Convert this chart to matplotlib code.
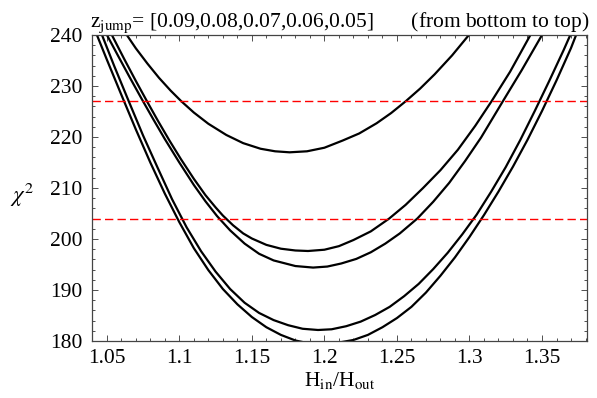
import matplotlib
matplotlib.use("Agg")
import matplotlib.pyplot as plt
from matplotlib.ticker import MultipleLocator, FormatStrFormatter, FuncFormatter

plt.rcParams['font.family'] = ['Liberation Serif', 'DejaVu Serif']
plt.rcParams['mathtext.fontset'] = 'stix'

# values: (H_in/H_out, chi^2) along each curve
z_jump = [0.09, 0.08, 0.07, 0.06, 0.05]

x_009 = [1.0432, 1.050, 1.060, 1.070, 1.080, 1.090, 1.100, 1.110, 1.120, 1.130, 1.140, 1.150, 1.160, 1.170, 1.180, 1.190, 1.198,
         1.210, 1.220, 1.230, 1.240, 1.250, 1.260, 1.270, 1.280, 1.290, 1.300, 1.310, 1.320, 1.330, 1.340, 1.350, 1.360, 1.370, 1.3735]
y_009 = [240.0, 235.2, 228.3, 221.5, 215.0, 208.9, 203.3, 198.2, 193.9, 190.2, 187.2, 184.7, 182.7, 181.2, 180.1, 179.5, 179.4,
         179.7, 180.2, 181.2, 182.7, 184.5, 186.7, 189.5, 192.8, 196.4, 200.4, 204.7, 209.3, 214.2, 219.45, 225.1, 231.1, 237.45, 240.0]

x_008 = [1.0467, 1.055, 1.065, 1.075, 1.085, 1.095, 1.105, 1.115, 1.125, 1.135, 1.145, 1.155, 1.165, 1.175, 1.185, 1.1956,
         1.205, 1.215, 1.225, 1.235, 1.245, 1.255, 1.265, 1.275, 1.285, 1.295, 1.305, 1.315, 1.325, 1.335, 1.345, 1.355, 1.365, 1.3695]
y_008 = [240.0, 234.0, 227.1, 220.3, 214.0, 207.8, 202.3, 197.6, 193.6, 190.2, 187.5, 185.5, 184.1, 183.1, 182.4, 182.16,
         182.3, 182.9, 183.8, 185.1, 186.7, 188.8, 191.2, 194.1, 197.3, 200.9, 204.8, 209.3, 214.1, 219.4, 225.1, 231.0, 237.1, 240.0]

x_007 = [1.0501, 1.058, 1.066, 1.074, 1.082, 1.090, 1.100, 1.110, 1.118, 1.126, 1.135, 1.145, 1.155, 1.165, 1.180, 1.1922,
         1.202, 1.2116, 1.222, 1.232, 1.242, 1.252, 1.264, 1.275, 1.286, 1.297, 1.308, 1.323, 1.336, 1.350]
y_007 = [240.0, 235.8, 231.6, 227.5, 223.5, 219.6, 215.0, 210.6, 207.4, 204.5, 201.7, 199.1, 197.1, 195.8, 194.7, 194.4,
         194.6, 195.2, 196.1, 197.4, 199.1, 201.1, 204.0, 207.3, 211.0, 215.3, 219.9, 227.0, 233.1, 240.0]

x_006 = [1.0535, 1.062, 1.070, 1.078, 1.085, 1.093, 1.101, 1.110, 1.118, 1.125, 1.130, 1.137, 1.144, 1.150, 1.160, 1.170, 1.180, 1.1887,
         1.200, 1.210, 1.220, 1.232, 1.2446, 1.256, 1.268, 1.280, 1.292, 1.304, 1.3152, 1.328, 1.342]
y_006 = [240.0, 235.3, 231.0, 226.85, 223.3, 219.4, 215.7, 211.8, 208.6, 206.2, 204.6, 202.7, 201.1, 200.1, 198.85, 198.1, 197.75, 197.65,
         197.9, 198.6, 199.8, 201.5, 204.0, 206.7, 210.0, 213.5, 217.5, 222.2, 227.0, 232.8, 240.0]

x_005 = [1.0638, 1.070, 1.078, 1.086, 1.094, 1.1014, 1.110, 1.120, 1.1324, 1.144, 1.156, 1.166, 1.176, 1.188, 1.200,
         1.2125, 1.224, 1.236, 1.246, 1.256, 1.266, 1.276, 1.288, 1.2996]
y_005 = [240.0, 237.4, 234.4, 231.6, 229.1, 227.0, 224.8, 222.6, 220.4, 218.8, 217.7, 217.2, 217.0, 217.2, 217.9,
         219.3, 220.7, 222.7, 224.7, 227.0, 229.5, 232.3, 236.0, 240.0]

curves = [(x_009, y_009), (x_008, y_008), (x_007, y_007), (x_006, y_006), (x_005, y_005)]

chi2_levels = [227, 204]

fig = plt.figure(figsize=(5.97, 3.98), dpi=100)
ax = fig.add_axes([0.1546, 0.1432, 0.8286, 0.7688])

for xs, ys in curves:
    ax.plot(xs, ys, color='black', lw=1.6, solid_capstyle='round', solid_joinstyle='round')

for lev in chi2_levels:
    ax.axhline(lev, color='#ff0000', lw=1.0, linestyle=(0, (6, 3)))

ax.set_xlim(1.04, 1.381)
ax.set_ylim(180, 240)

ax.xaxis.set_major_locator(MultipleLocator(0.05))
ax.xaxis.set_minor_locator(MultipleLocator(0.01))
ax.yaxis.set_major_locator(MultipleLocator(10))
ax.yaxis.set_minor_locator(MultipleLocator(2))
ax.xaxis.set_major_formatter(FuncFormatter(lambda v, p: '%g' % round(v, 2)))
ax.yaxis.set_major_formatter(FormatStrFormatter('%d'))

ax.tick_params(which='both', direction='in', top=True, right=True, width=0.6, colors='#333333', labelcolor='black')
ax.tick_params(which='major', length=4.5, labelsize=15.5)
ax.tick_params(axis='y', which='major', pad=7)
ax.tick_params(axis='x', which='major', pad=6)
ax.tick_params(which='minor', length=2.5)
for s in ax.spines.values():
    s.set_linewidth(0.9)
    s.set_color('#444444')

ax.set_xlabel(r'H$_{\rm in}$/H$_{\rm out}$', fontsize=15.5, labelpad=1)
ax.set_ylabel(r'$\chi^2$', fontsize=16.5, rotation=0, ha='center', va='center')
ax.yaxis.set_label_coords(-0.142, 0.477)
ax.set_title(r'z$_{\rm jump}$= [0.09,0.08,0.07,0.06,0.05]       (from bottom to top)', fontsize=15.5, pad=3)

fig.savefig('out.png', dpi=100)
